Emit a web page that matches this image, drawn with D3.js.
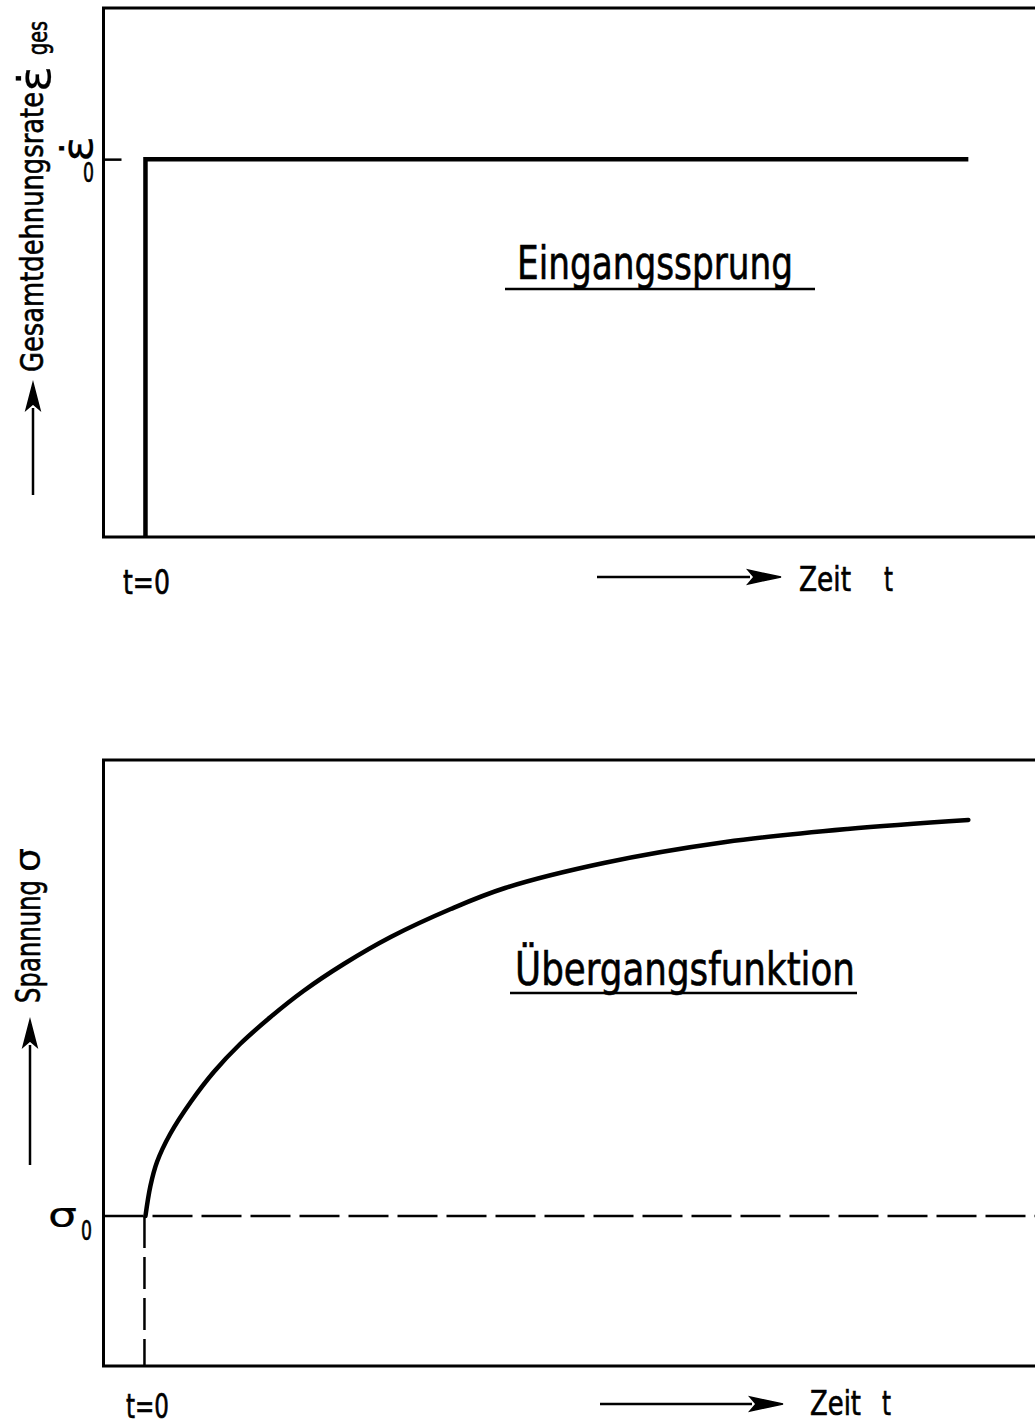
<!DOCTYPE html>
<html><head><meta charset="utf-8">
<script src="https://cdn.jsdelivr.net/npm/d3@7"></script>
<style>
html,body{margin:0;padding:0;background:#fff;}
svg{display:block;}
text{font-family:"Liberation Sans Narrow","DejaVu Sans Condensed","Liberation Sans",sans-serif;fill:#000;stroke:#000;stroke-width:0.6;}
text.sym{stroke-width:0.2;}
</style></head>
<body>
<svg id="c" width="1035" height="1425"></svg>
<script>
// ---- data ----
const stepT = [0, 0, 10];          // Eingangssprung: time
const stepRate = [0, 1, 1];        // strain rate (units of eps0)
const curveT = [0, 0.06, 0.14, 0.3, 0.55, 0.83, 1.15, 1.52, 1.92, 2.41, 2.98, 3.71, 4.37, 5.57, 7.05, 8.53, 10];
const curveSigma = [1, 1.3, 1.54, 1.82, 2.14, 2.44, 2.72, 2.99, 3.25, 3.52, 3.79, 4.07, 4.28, 4.53, 4.74, 4.87, 4.96];
const topTickValues = [1];
const bottomRefValues = [1];
const labels = {
  topY: "Gesamtdehnungsrate", topYSym: "ε̇", topYSub: "ges",
  botY: "Spannung", botYSym: "σ",
  topTickSym: "ε̇", tickSub: "0", botTickSym: "σ",
  t0: "t=0", zeit: "Zeit", t: "t",
  topTitle: "Eingangssprung", botTitle: "Übergangsfunktion"
};

const svg = d3.select("#c");
const x = d3.scaleLinear().domain([-0.51, 10.81]).range([103.5, 1035]);
const yTop = d3.scaleLinear().domain([0, 1.4]).range([537, 8]);
const yBot = d3.scaleLinear().domain([-0.5, 5.56]).range([1366, 760]);

function frame(y) {
  const [y0, y1] = y.range();
  const xl = x.range()[0];
  svg.append("path")
    .attr("d", `M1040,${y1}H${xl}V${y0}H1040`)
    .attr("fill", "none").attr("stroke", "#000").attr("stroke-width", 3);
}
frame(yTop); frame(yBot);

// top tick
const axTop = d3.axisLeft(yTop).tickValues(topTickValues).tickSize(-18).tickFormat("");
const gA = svg.append("g").attr("transform", `translate(${x.range()[0]},0)`).call(axTop);
gA.select(".domain").remove();
gA.selectAll("line").attr("stroke", "#000").attr("stroke-width", 2.5);

// step
const stepData = stepT.map((t, i) => [t, stepRate[i]]);
svg.append("path")
  .attr("d", d3.line().x(d => x(d[0])).y(d => yTop(d[1]))(stepData))
  .attr("fill", "none").attr("stroke", "#000").attr("stroke-width", 4.5)
  .attr("stroke-linejoin", "miter");

// dashed reference lines
bottomRefValues.forEach(v => {
  svg.append("line")
    .attr("x1", x.range()[0]).attr("x2", 1035).attr("y1", yBot(v)).attr("y2", yBot(v))
    .attr("stroke", "#000").attr("stroke-width", 2.5).attr("stroke-dasharray", "40,9");
  svg.append("line")
    .attr("x1", x(0) - 1).attr("x2", x(0) - 1).attr("y1", yBot(v)).attr("y2", yBot.range()[0])
    .attr("stroke", "#000").attr("stroke-width", 2.5).attr("stroke-dasharray", "32,9");
});

// curve
const curveData = curveT.map((t, i) => [t, curveSigma[i]]);
svg.append("path")
  .attr("d", d3.line().curve(d3.curveCatmullRom.alpha(0.5)).x(d => x(d[0])).y(d => yBot(d[1]))(curveData))
  .attr("fill", "none").attr("stroke", "#000").attr("stroke-width", 4.5)
  .attr("stroke-linecap", "round");

// helpers
function txt(s, xx, yy, size, len, opts = {}) {
  const t = svg.append("text").attr("x", xx).attr("y", yy)
    .attr("font-size", size).text(s);
  if (len) t.attr("textLength", len).attr("lengthAdjust", "spacingAndGlyphs");
  if (opts.rot) t.attr("transform", `rotate(${opts.rot},${xx},${yy})`);
  if (opts.anchor) t.attr("text-anchor", opts.anchor);
  if (opts.family) t.style("font-family", opts.family).attr("class", "sym");
  return t;
}
function upArrow(cx, tip, base, bottom) {
  svg.append("line").attr("x1", cx).attr("x2", cx).attr("y1", base - 2).attr("y2", bottom)
    .attr("stroke", "#000").attr("stroke-width", 2.5);
  svg.append("path").attr("d", `M${cx},${tip}L${cx - 7},${base}L${cx},${base - 6}L${cx + 7},${base}Z`)
    .attr("fill", "#000").attr("stroke", "#000").attr("stroke-width", 1.5);
}
function rightArrow(yy, start, base, tip) {
  svg.append("line").attr("x1", start).attr("x2", base + 2).attr("y1", yy).attr("y2", yy)
    .attr("stroke", "#000").attr("stroke-width", 2.5);
  svg.append("path").attr("d", `M${tip},${yy}L${base},${yy - 7}L${base + 6},${yy}L${base},${yy + 7}Z`)
    .attr("fill", "#000").attr("stroke", "#000").attr("stroke-width", 1.5);
}

// top y label
upArrow(33, 383, 410, 495);
txt(labels.topY, 43, 372, 32, 280, {rot: -90});
txt(labels.topYSym, 50, 92, 44, 26, {rot: -90, family: "DejaVu Sans Condensed, DejaVu Sans"});
txt(labels.topYSub, 47, 55, 26, 34, {rot: -90});
// top tick label
txt(labels.topTickSym, 92, 162, 42, 26, {rot: -90, family: "DejaVu Sans Condensed, DejaVu Sans"});
txt(labels.tickSub, 83, 182, 26, 11);

// bottom y label
upArrow(30, 1020, 1047, 1165);
txt(labels.botY, 40, 1003, 33, 123, {rot: -90});
txt(labels.botYSym, 40, 872, 36, 24, {rot: -90, family: "DejaVu Sans Condensed, DejaVu Sans"});
// sigma0
txt(labels.botTickSym, 48, 1227, 34, 29, {family: "DejaVu Sans Condensed, DejaVu Sans"});
txt(labels.tickSub, 81, 1240, 26, 11);

// x labels
txt(labels.t0, 123, 594, 34, 47);
rightArrow(577, 597, 748, 781);
txt(labels.zeit, 799, 591, 34, 52);
txt(labels.t, 884, 591, 34, 9);

txt(labels.t0, 126, 1418, 34, 43);
rightArrow(1404, 600, 750, 783);
txt(labels.zeit, 810, 1415, 34, 51);
txt(labels.t, 882, 1415, 34, 9);

// titles
txt(labels.topTitle, 517, 279, 46, 276);
svg.append("line").attr("x1", 505).attr("x2", 815).attr("y1", 289).attr("y2", 289)
  .attr("stroke", "#000").attr("stroke-width", 2.5);
txt(labels.botTitle, 515, 985, 46, 340);
svg.append("line").attr("x1", 510).attr("x2", 857).attr("y1", 993).attr("y2", 993)
  .attr("stroke", "#000").attr("stroke-width", 2.5);
</script>
</body></html>
